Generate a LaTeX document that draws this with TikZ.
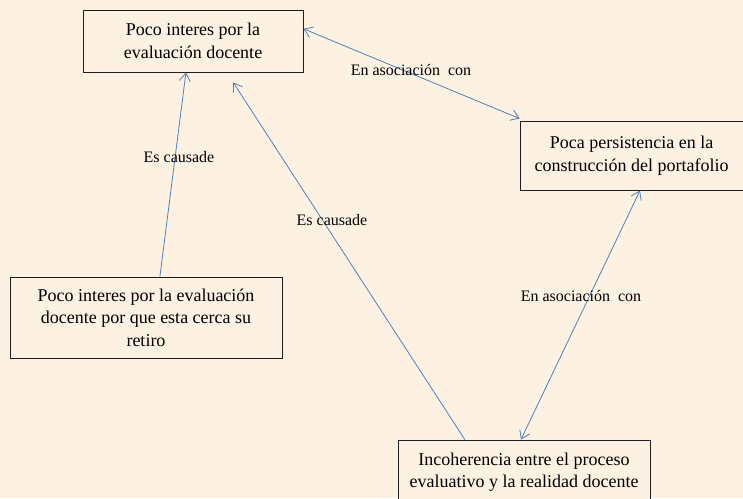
\documentclass[tikz,border=0pt]{standalone}
\usepackage{fontspec}
\setmainfont{Liberation Serif}
\usetikzlibrary{arrows.meta,calc}
\definecolor{bgc}{RGB}{253,241,225}
\definecolor{arrc}{RGB}{79,129,189}
\definecolor{boxc}{RGB}{30,30,30}
\tikzset{
  box/.style={draw=boxc,line width=0.9pt,fill=bgc,inner sep=2pt,align=center,
    font=\fontsize{18}{22.5}\selectfont},
  conn/.style={draw=arrc,line width=0.8pt},
  tipc/.style={-{Straight Barb[length=8pt,width=11pt,line width=0.8pt]}},
  tipboth/.style={{Straight Barb[length=8pt,width=11pt,line width=0.8pt]}-{Straight Barb[length=8pt,width=11pt,line width=0.8pt]}},
  lbl/.style={font=\fontsize{16}{18}\selectfont,inner sep=1pt}
}
\begin{document}
\begin{tikzpicture}[x=1pt,y=-1pt]
\fill[bgc] (0,0) rectangle (743,498);
\useasboundingbox (0,0) rectangle (743,498);
\node[box,minimum width=220pt,minimum height=62pt] (b1) at (193,41) {Poco interes por la\\evaluación docente};
\node[box,minimum width=223pt,minimum height=69pt] (b2) at (631.5,155.5) {Poca persistencia en la\\construcción del portafolio};
\node[box,minimum width=272pt,minimum height=81pt] (b3) at (146,317.5) {Poco interes por la evaluación\\docente por que esta cerca su\\retiro};
\node[box,minimum width=252pt,minimum height=64pt] (b4) at (524,472) {Incoherencia entre el proceso\\evaluativo y la realidad docente};
\draw[conn,tipc] ($(b3.north west)!0.551!(b3.north east)$) -- ($(b1.south west)!0.468!(b1.south east)$);
\draw[conn,tipc] ($(b4.north west)!0.266!(b4.north east)$) -- ($(b1.south west)!0.682!(b1.south east)+(0,10)$);
\draw[conn,tipboth] ($(b1.north east)!0.306!(b1.south east)$) -- ($(b2.north west)+(0,-2)$);
\draw[conn,tipboth] ($(b2.south west)!0.538!(b2.south east)$) -- ($(b4.north west)!0.488!(b4.north east)$);
\node[lbl] (l1) at (179,157) {Es causade};
\node[lbl] (l2) at (332,220) {Es causade};
\node[lbl] (l3) at (411,70) {En asociación\ \ con};
\node[lbl] (l4) at (581,296) {En asociación\ \ con};
\end{tikzpicture}
\end{document}
